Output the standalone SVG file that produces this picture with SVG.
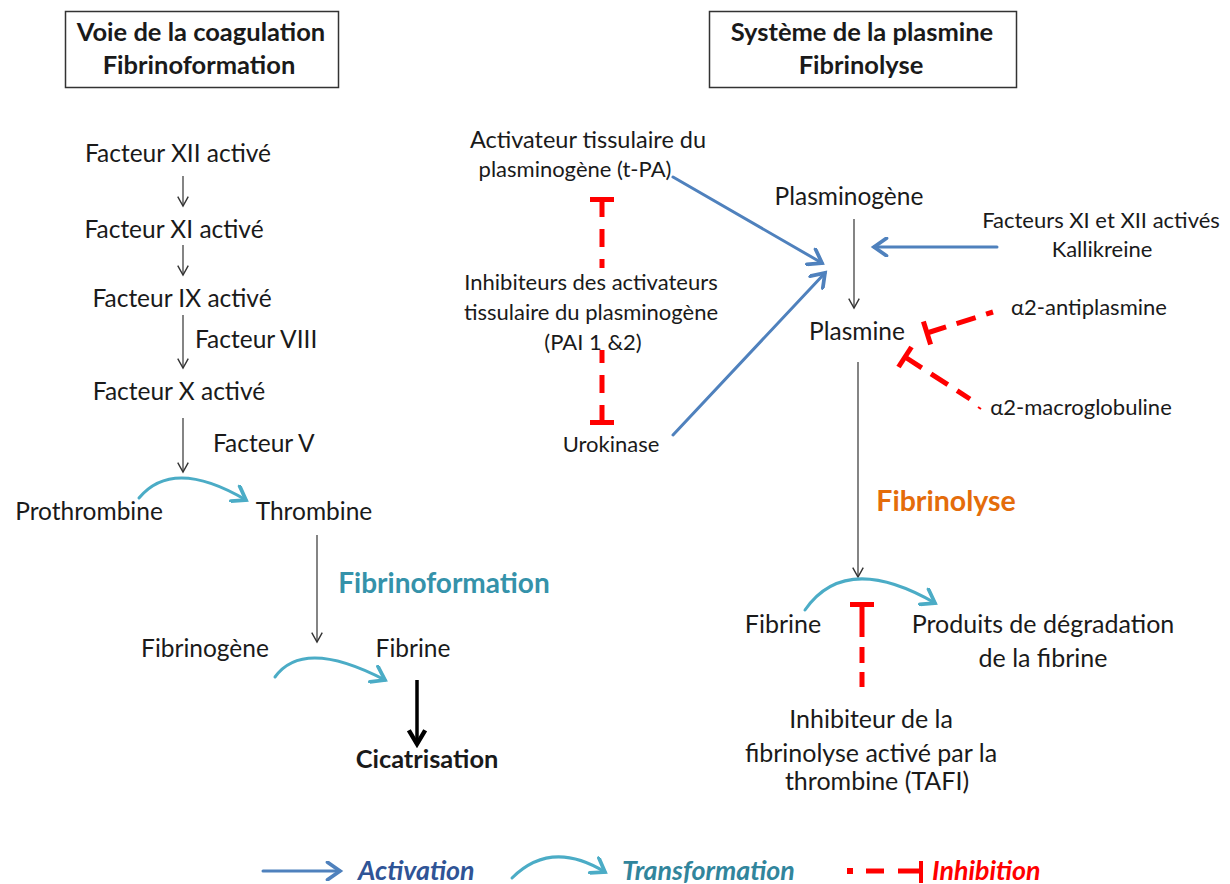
<svg xmlns="http://www.w3.org/2000/svg" width="1230" height="884" viewBox="0 0 1230 884">
<style>
text{font-family:Lato,"Liberation Sans",sans-serif;fill:#1a1a1a}
.l{font-size:24.5px}
.r{font-size:22px}
.rb{font-size:25px}
.h{font-size:25.5px;font-weight:bold;text-anchor:middle}
.m{text-anchor:middle}
.lg{font-size:26.8px;font-weight:bold;font-style:italic}
.thin{stroke:#333;stroke-width:1.2;fill:none}
.blue{stroke:#4F81BD;stroke-width:3;fill:none;stroke-linecap:round}
.teal{stroke:#4BACC6;stroke-width:3;fill:none;stroke-linecap:round}
.red{stroke:#FF0000;stroke-width:5;fill:none}
.dash{stroke-dasharray:18 12}
.bar{stroke:#FF0000;stroke-width:5}
</style>
<defs>
<marker id="ah" markerUnits="userSpaceOnUse" markerWidth="14" markerHeight="14" refX="10" refY="5" orient="auto" viewBox="0 0 12 10">
<path d="M2,0.5 L10,5 L2,9.5" fill="none" stroke="#333" stroke-width="1.2"/>
</marker>
<marker id="ahb" markerUnits="userSpaceOnUse" markerWidth="20" markerHeight="20" refX="12" refY="8" orient="auto" viewBox="0 0 16 16">
<path d="M2,1 L12,8 L2,15" fill="none" stroke="#4F81BD" stroke-width="3" stroke-linecap="round"/>
</marker>
<marker id="aht" markerUnits="userSpaceOnUse" markerWidth="20" markerHeight="20" refX="12" refY="8" orient="auto" viewBox="0 0 16 16">
<path d="M2,1 L12,8 L2,15" fill="none" stroke="#4BACC6" stroke-width="3" stroke-linecap="round"/>
</marker>
<marker id="ahk" markerUnits="userSpaceOnUse" markerWidth="20" markerHeight="20" refX="13" refY="8" orient="auto" viewBox="0 0 16 16">
<path d="M2,1.5 L13,8 L2,14.5" fill="none" stroke="#000" stroke-width="3.5"/>
</marker>
</defs>
<rect width="1230" height="884" fill="#fff"/>

<g id="header-left">
<rect x="65.5" y="11.5" width="273" height="76" fill="#fff" stroke="#333" stroke-width="1.5"/>
<text class="h" x="201" y="41">Voie de la coagulation</text>
<text class="h" x="199" y="74">Fibrinoformation</text>
</g>
<g id="header-right">
<rect x="709.5" y="11.5" width="307" height="76" fill="#fff" stroke="#333" stroke-width="1.5"/>
<text class="h" x="862" y="41">Système de la plasmine</text>
<text class="h" x="861" y="74">Fibrinolyse</text>
</g>

<g id="connectors">
<line class="thin" x1="183" y1="176" x2="183" y2="206" marker-end="url(#ah)"/>
<line class="thin" x1="183" y1="245" x2="183" y2="275" marker-end="url(#ah)"/>
<line class="thin" x1="183" y1="315" x2="183" y2="368" marker-end="url(#ah)"/>
<line class="thin" x1="183" y1="418" x2="183" y2="472" marker-end="url(#ah)"/>
<path class="teal" d="M139,498 Q173,457 246,500" marker-end="url(#aht)"/>
<line class="thin" x1="317" y1="535" x2="317" y2="642" marker-end="url(#ah)"/>
<path class="teal" d="M275,677 Q303.5,637.5 385,680" marker-end="url(#aht)"/>
<line x1="417" y1="680" x2="417" y2="744" stroke="#000" stroke-width="3.5" marker-end="url(#ahk)"/>

<line class="blue" x1="673" y1="177" x2="822" y2="263" marker-end="url(#ahb)"/>
<line class="blue" x1="673" y1="435" x2="825" y2="273" marker-end="url(#ahb)"/>
<line class="blue" x1="997" y1="247" x2="874" y2="247" marker-end="url(#ahb)"/>
<line class="thin" x1="854" y1="219" x2="854" y2="308" marker-end="url(#ah)"/>
<line class="thin" x1="858" y1="362" x2="858" y2="577" marker-end="url(#ah)"/>
<path class="teal" d="M805,610 Q845.5,551.5 935,603" marker-end="url(#aht)"/>

<line class="red dash" x1="602" y1="199" x2="602" y2="268"/>
<line class="bar" x1="590" y1="199.5" x2="614" y2="199.5"/>
<line class="red dash" x1="602" y1="423" x2="602" y2="350"/>
<line class="bar" x1="590" y1="422.5" x2="614" y2="422.5"/>

<line class="red" style="stroke-dasharray:20 11" x1="927" y1="333" x2="993" y2="312"/>
<line class="bar" x1="923.4" y1="321.6" x2="930.6" y2="344.4"/>
<line class="red" style="stroke-dasharray:20 11" x1="905" y1="357" x2="970" y2="399"/>
<line class="bar" x1="898.5" y1="367" x2="911.5" y2="347"/>
<line x1="978" y1="407" x2="981" y2="409" stroke="#FF0000" stroke-width="2"/>

<line class="red" style="stroke-dasharray:33 10 16 9 15" x1="862" y1="604" x2="862" y2="687"/>
<line class="bar" x1="850" y1="604.5" x2="874" y2="604.5"/>
</g>

<g id="facteur-xii"><text class="l m" x="178" y="162">Facteur XII activé</text></g>
<g id="facteur-xi"><text class="l m" x="174" y="238">Facteur XI activé</text></g>
<g id="facteur-ix"><text class="l m" x="182" y="307">Facteur IX activé</text></g>
<g id="facteur-viii"><text class="l" x="195" y="348">Facteur VIII</text></g>
<g id="facteur-x"><text class="l m" x="179" y="400">Facteur X activé</text></g>
<g id="facteur-v"><text class="l" x="213" y="452">Facteur V</text></g>
<g id="prothrombine"><text class="l m" x="89" y="520">Prothrombine</text></g>
<g id="thrombine"><text class="l m" x="314" y="520">Thrombine</text></g>
<g id="fibrinoformation"><text x="444" y="593" style="font-size:28px;font-weight:bold;fill:#3592AA;text-anchor:middle">Fibrinoformation</text></g>
<g id="fibrinogene"><text class="l m" x="205" y="657">Fibrinogène</text></g>
<g id="fibrine-left"><text class="l m" x="413" y="657">Fibrine</text></g>
<g id="cicatrisation"><text x="427" y="768" style="font-size:25.4px;font-weight:bold;text-anchor:middle">Cicatrisation</text></g>

<g id="tpa"><text class="m" style="font-size:23.5px" x="588" y="148">Activateur tissulaire du</text><text class="r m" x="575" y="177">plasminogène (t-PA)</text></g>
<g id="pai"><text class="r m" x="591" y="290">Inhibiteurs des activateurs</text><text class="r m" x="591" y="320">tissulaire du plasminogène</text><text class="r m" x="593" y="350">(PAI 1 &amp;2)</text></g>
<g id="urokinase"><text class="r m" x="611" y="452">Urokinase</text></g>
<g id="plasminogene"><text class="l m" x="849" y="205">Plasminogène</text></g>
<g id="facteurs-kallikreine"><text class="r m" x="1101" y="228">Facteurs XI et XII activés</text><text class="r m" x="1102" y="257">Kallikreine</text></g>
<g id="plasmine"><text class="l m" x="857" y="340">Plasmine</text></g>
<g id="antiplasmine"><text class="r m" x="1089" y="315">α2-antiplasmine</text></g>
<g id="macroglobuline"><text class="r m" x="1081" y="415">α2-macroglobuline</text></g>
<g id="fibrinolyse"><text x="946" y="511" style="font-size:28.5px;font-weight:bold;fill:#E46C0A;text-anchor:middle">Fibrinolyse</text></g>
<g id="fibrine-right"><text class="rb m" x="783" y="633">Fibrine</text></g>
<g id="produits"><text class="rb m" x="1043" y="633">Produits de dégradation</text><text class="rb m" x="1043" y="667">de la fibrine</text></g>
<g id="tafi"><text class="rb m" x="871" y="728">Inhibiteur de la</text><text class="rb m" x="871" y="762">fibrinolyse activé par la</text><text class="rb m" x="877" y="790">thrombine (TAFI)</text></g>

<g id="legend">
<line class="blue" x1="263" y1="871" x2="340" y2="871" marker-end="url(#ahb)"/>
<text class="lg" x="358" y="880" style="fill:#2F5496">Activation</text>
<path class="teal" d="M512,878 Q551,839 605,872" marker-end="url(#aht)"/>
<text class="lg" x="622" y="880" style="fill:#31859C">Transformation</text>
<rect x="847" y="868" width="6" height="6" fill="#FF0000"/>
<line class="bar" x1="866" y1="871" x2="884" y2="871"/>
<line class="bar" x1="898" y1="871" x2="921" y2="871"/>
<line x1="921" y1="861" x2="921" y2="883" stroke="#FF0000" stroke-width="4"/>
<text class="lg" x="932" y="880" style="fill:#FF0000">Inhibition</text>
</g>
</svg>
